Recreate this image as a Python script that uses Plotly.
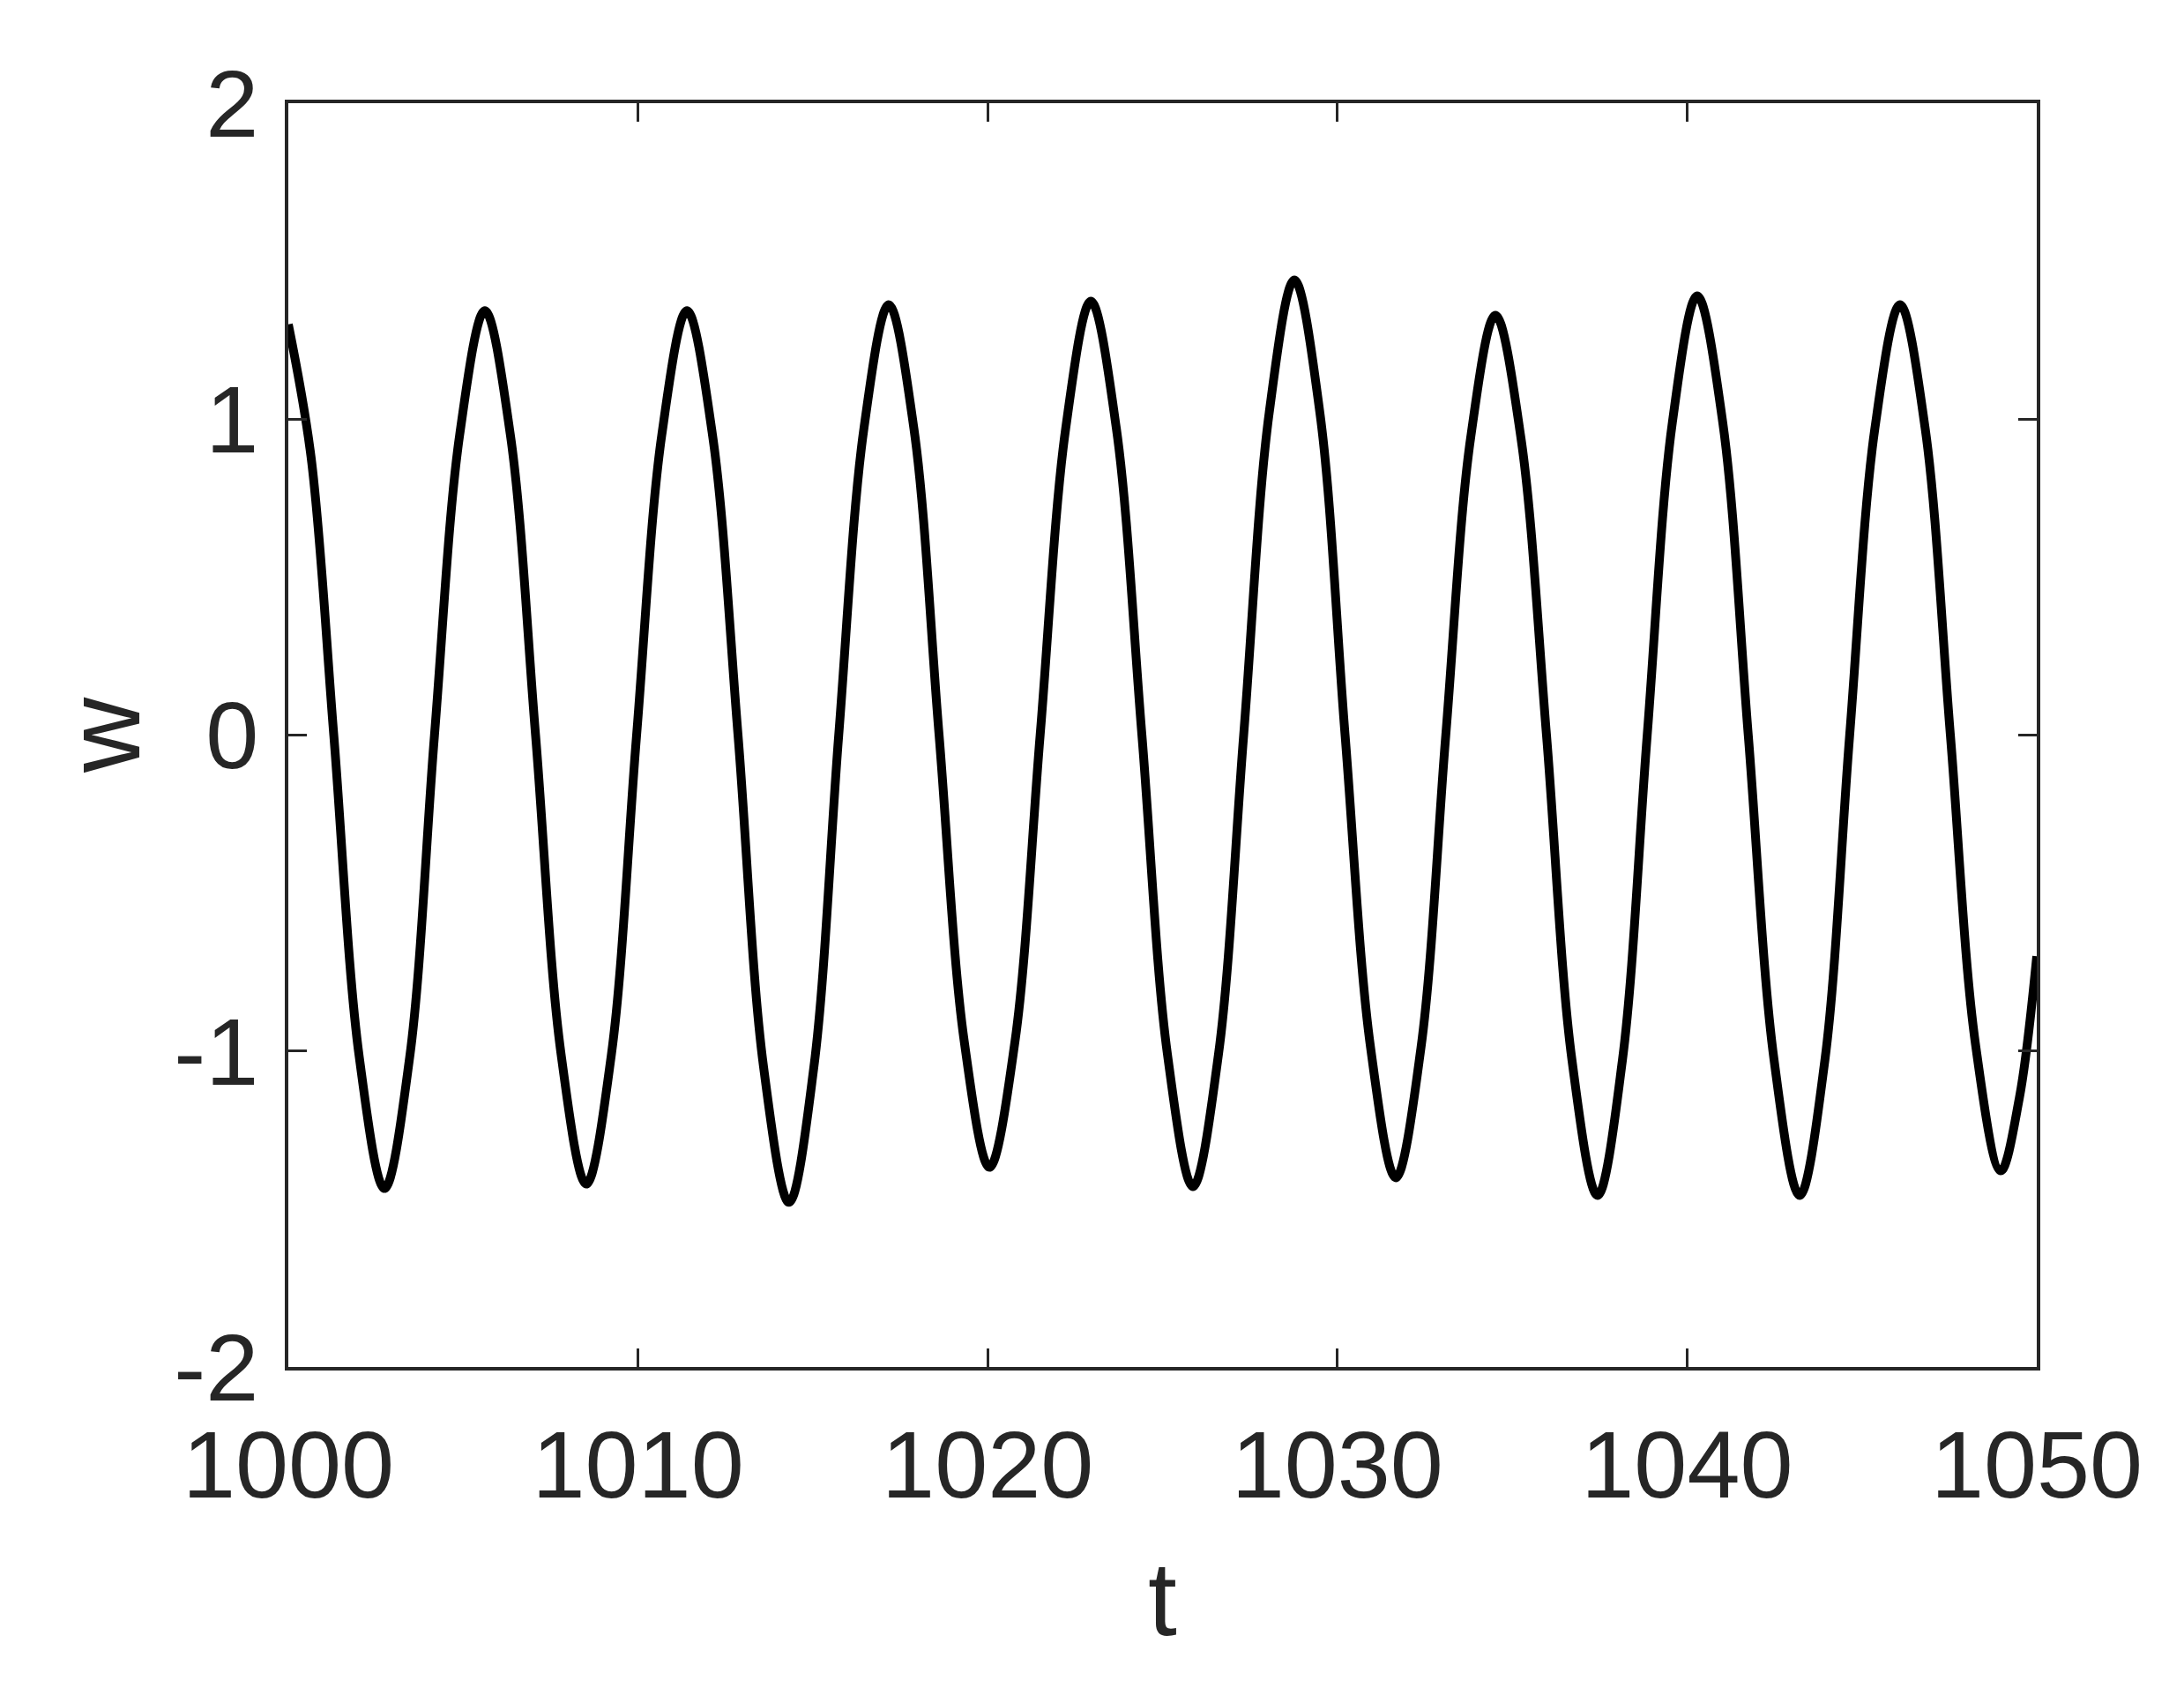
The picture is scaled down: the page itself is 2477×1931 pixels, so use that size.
import plotly.graph_objects as go

# Time samples (extrema, zero crossings and intermediate points)
t = [1000.00, 1000.65, 1001.30, 1002.03, 1002.75, 1003.47, 1004.18, 1004.90, 1005.62, 1006.35,
     1007.07, 1007.80, 1008.52, 1009.24, 1009.96, 1010.68, 1011.40, 1012.13, 1012.86, 1013.59,
     1014.32, 1015.03, 1015.74, 1016.46, 1017.17, 1017.89, 1018.61, 1019.33, 1020.05, 1020.78,
     1021.50, 1022.23, 1022.95, 1023.68, 1024.41, 1025.14, 1025.87, 1026.60, 1027.32, 1028.05,
     1028.77, 1029.50, 1030.22, 1030.95, 1031.67, 1032.39, 1033.10, 1033.81, 1034.52, 1035.25,
     1035.98, 1036.71, 1037.44, 1038.15, 1038.86, 1039.58, 1040.29, 1041.02, 1041.75, 1042.49,
     1043.22, 1043.94, 1044.65, 1045.37, 1046.09, 1046.81, 1047.53, 1048.25, 1048.97, 1049.50,
     1050.00]

w = [1.30, 0.88, 0.00, -1.02, -1.435, -1.02, 0.00, 0.95, 1.343, 0.95,
     0.00, -1.01, -1.421, -1.01, 0.00, 0.95, 1.343, 0.95, 0.00, -1.05,
     -1.479, -1.05, 0.00, 0.97, 1.362, 0.97, 0.00, -0.97, -1.368, -0.97,
     0.00, 0.97, 1.373, 0.97, 0.00, -1.01, -1.429, -1.01, 0.00, 1.02,
     1.440, 1.02, 0.00, -0.99, -1.401, -0.99, 0.00, 0.94, 1.329, 0.94,
     0.00, -1.03, -1.457, -1.03, 0.00, 0.99, 1.390, 0.99, 0.00, -1.03,
     -1.457, -1.03, 0.00, 0.97, 1.362, 0.97, 0.00, -0.98, -1.379, -1.15,
     -0.70]

x_ticks = [1000, 1010, 1020, 1030, 1040, 1050]
y_ticks = [-2, -1, 0, 1, 2]

AX = "#262626"
FONT = "Liberation Sans, Arial, Helvetica, sans-serif"

fig = go.Figure()
fig.add_trace(go.Scatter(
    x=t, y=w, mode="lines",
    line=dict(color="black", width=10, shape="spline", smoothing=1.0),
    showlegend=False,
))

axis_common = dict(
    showline=True, linecolor=AX, linewidth=4, mirror="ticks",
    ticks="inside", ticklen=21, tickwidth=3, tickcolor=AX,
    showgrid=False, zeroline=False,
    tickfont=dict(family=FONT, size=108, color=AX),
)

fig.update_xaxes(
    range=[1000, 1050], tickvals=x_ticks, ticktext=[str(v) for v in x_ticks],
    title=dict(text="t", font=dict(family=FONT, size=118, color=AX), standoff=53),
    ticklabelstandoff=14,
    **axis_common,
)
fig.update_yaxes(
    range=[-2, 2], tickvals=y_ticks, ticktext=[str(v) for v in y_ticks],
    title=dict(text="w", font=dict(family=FONT, size=118, color=AX), standoff=0),
    ticklabelstandoff=8,
    **axis_common,
)

fig.update_layout(
    width=2461, height=1915,
    margin=dict(l=319, r=159, t=109, b=373),
    paper_bgcolor="white", plot_bgcolor="white",
)

fig.write_html("out.html")
